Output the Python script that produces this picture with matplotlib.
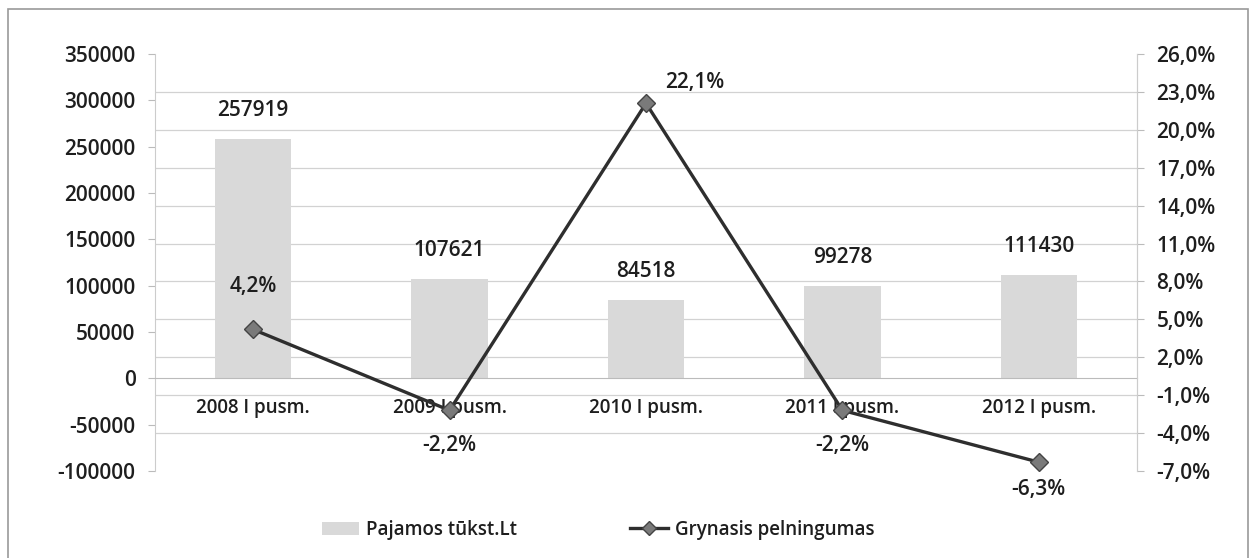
import matplotlib
matplotlib.use("Agg")
import matplotlib.pyplot as plt
from matplotlib.ticker import FixedLocator, FuncFormatter
from matplotlib.lines import Line2D
from matplotlib.patches import Patch, Rectangle

categories = ["2008 I pusm.", "2009 I pusm.", "2010 I pusm.", "2011 I pusm.", "2012 I pusm."]
pajamos = [257919, 107621, 84518, 99278, 111430]
pelningumas = [4.2, -2.2, 22.1, -2.2, -6.3]

left_ticks = list(range(-100000, 350001, 50000))
right_ticks = list(range(-7, 27, 3))

bar_color = "#d9d9d9"
line_color = "#2e2e2e"
marker_color = "#7a7a7a"
grid_color = "#d2d2d2"
text_color = "#1e1e1e"

plt.rcParams["font.family"] = ["Open Sans", "DejaVu Sans"]
plt.rcParams["font.size"] = 13.5
plt.rcParams["font.weight"] = 600
num_size = 15

fig = plt.figure(figsize=(12.52, 5.58), dpi=100)
ax = fig.add_axes([155 / 1252, 1 - 471 / 558, (1137 - 155) / 1252, (471 - 54) / 558])
ax2 = ax.twinx()

x = list(range(len(categories)))

ax.bar(x, pajamos, width=0.39, color=bar_color, zorder=2)
ax.set_xlim(-0.5, len(categories) - 0.5)
ax.set_ylim(-100000, 350000)
ax.set_yticks(left_ticks)
ax.yaxis.set_major_formatter(FuncFormatter(lambda v, p: f"{int(v)}"))

# gridlines follow the right axis ticks, drawn under the bars
grid_pos = [-100000 + (t + 7) / 33 * 450000 for t in right_ticks]
ax.yaxis.set_minor_locator(FixedLocator(grid_pos))
ax.grid(which="minor", axis="y", color=grid_color, linewidth=0.9, zorder=0)
ax.tick_params(axis="y", which="minor", length=0)
ax.tick_params(axis="y", which="major", length=5, color="#bbbbbb", pad=9,
               labelcolor=text_color, labelsize=num_size)

ax.spines["bottom"].set_position(("data", 0))
ax.spines["bottom"].set_color("#bbbbbb")
ax.spines["top"].set_visible(False)
ax.spines["left"].set_color("#cccccc")
ax.spines["right"].set_color("#cccccc")
ax.set_xticks(x)
ax.set_xticklabels(categories)
ax.tick_params(axis="x", length=0, pad=14, labelcolor=text_color)

for xi, v in zip(x, pajamos):
    ax.annotate(str(v), (xi, v), xytext=(0, 13), textcoords="offset points",
                ha="center", va="bottom", color=text_color, fontsize=num_size)

ax2.plot(x, pelningumas, color=line_color, linewidth=2.4, marker="D",
         markersize=9, markerfacecolor=marker_color, markeredgecolor="#444444",
         markeredgewidth=1.0, zorder=5)
ax2.set_ylim(-7, 26)
ax2.set_yticks(right_ticks)
ax2.yaxis.set_major_formatter(FuncFormatter(lambda v, p: f"{v:.1f}".replace(".", ",") + "%"))
ax2.tick_params(axis="y", length=5, color="#bbbbbb", pad=9, labelcolor=text_color,
                labelsize=num_size)
for s in ["top", "bottom", "left"]:
    ax2.spines[s].set_visible(False)
ax2.spines["right"].set_color("#cccccc")

label_offsets = [(0, 31), (0, -25), (35, 15), (0, -25), (0, -20)]
for xi, v, off in zip(x, pelningumas, label_offsets):
    ax2.annotate(f"{v:.1f}".replace(".", ",") + "%", (xi, v), xytext=off,
                 textcoords="offset points", ha="center", va="center",
                 color=text_color, fontsize=num_size)

handles = [
    Patch(facecolor=bar_color, edgecolor="none"),
    Line2D([0], [0], color=line_color, linewidth=2.4, marker="D", markersize=7,
           markerfacecolor=marker_color, markeredgecolor="#444444"),
]
fig.legend(handles, ["Pajamos tūkst.Lt", "Grynasis pelningumas"], loc="center",
           bbox_to_anchor=(598 / 1252, 1 - 530 / 558), ncol=2, frameon=False,
           handlelength=2.0, handletextpad=0.4, columnspacing=6.0,
           labelcolor=text_color)

fig.patches.append(Rectangle((8 / 1252, -0.02), 1240 / 1252, 1.02 - 9 / 558,
                             transform=fig.transFigure, fill=False,
                             edgecolor="#9a9a9a", linewidth=1.2))

fig.savefig("out.png", dpi=100)
